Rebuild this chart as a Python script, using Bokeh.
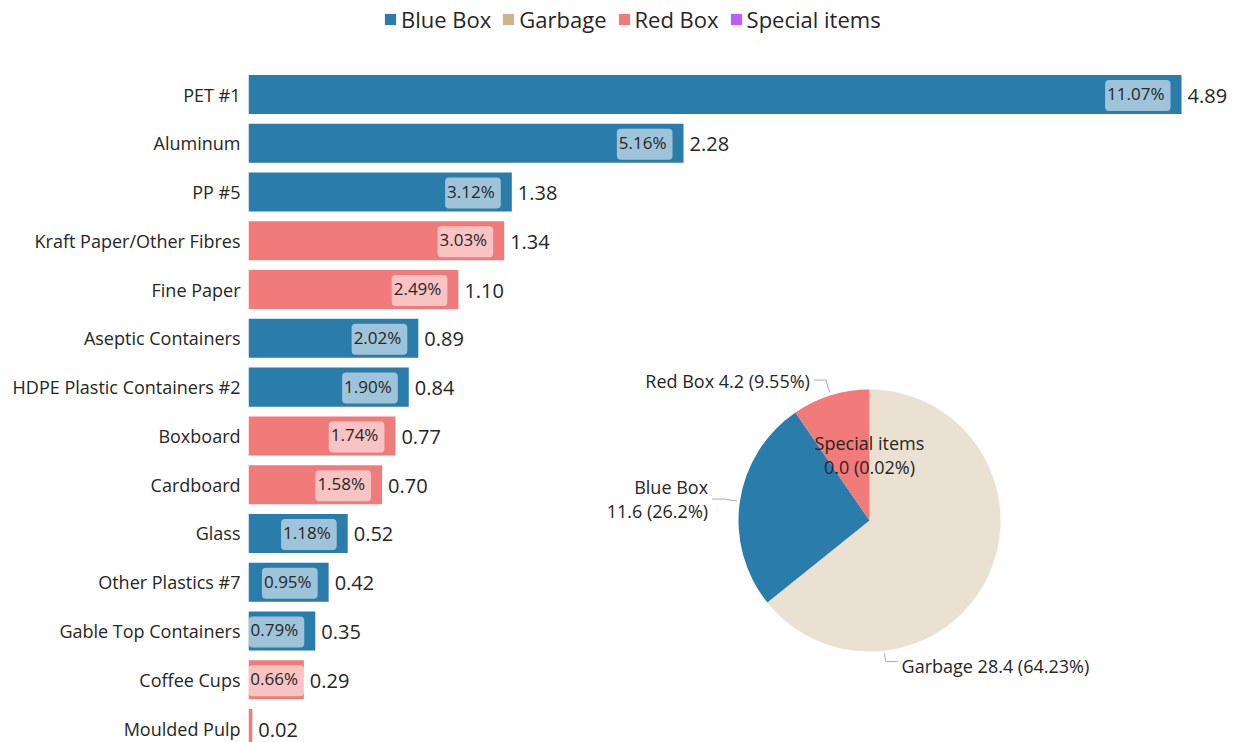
import math
from bokeh.plotting import figure
from bokeh.models import ColumnDataSource, Range1d, FixedTicker, Legend, LegendItem
from bokeh.core.properties import value
from bokeh.embed import file_html
from bokeh.resources import INLINE

# ---------------- data ----------------
categories = ["PET #1", "Aluminum", "PP #5", "Kraft Paper/Other Fibres", "Fine Paper",
              "Aseptic Containers", "HDPE Plastic Containers #2", "Boxboard", "Cardboard",
              "Glass", "Other Plastics #7", "Gable Top Containers", "Coffee Cups", "Moulded Pulp"]
amounts = [4.89, 2.28, 1.38, 1.34, 1.10, 0.89, 0.84, 0.77, 0.70, 0.52, 0.42, 0.35, 0.29, 0.02]
streams = ["Blue Box", "Blue Box", "Blue Box", "Red Box", "Red Box", "Blue Box", "Blue Box",
           "Red Box", "Red Box", "Blue Box", "Blue Box", "Blue Box", "Red Box", "Red Box"]
shares = ["11.07%", "5.16%", "3.12%", "3.03%", "2.49%", "2.02%", "1.90%", "1.74%", "1.58%",
          "1.18%", "0.95%", "0.79%", "0.66%", ""]

pie_labels = ["Blue Box", "Garbage", "Red Box", "Special items"]
pie_values = [11.6, 28.4, 4.2, 0.0]
pie_pcts = [26.2, 64.23, 9.55, 0.02]

colors = {"Blue Box": "#2a7caa", "Garbage": "#cdb48e", "Red Box": "#f17a7a", "Special items": "#bb5cff"}
pie_alpha = {"Blue Box": 1.0, "Garbage": 0.4, "Red Box": 1.0, "Special items": 1.0}

FONT = "Open Sans"
TXT = "#262626"

# ---------------- figure ----------------
W, H = 1233, 742
LEFT = 248
PX_PER_UNIT = 190.8
frame_w, frame_h = W - LEFT, H
ROW = 48.77            # px per category row
FIRST = 94             # px from top to first row centre
y_end = -FIRST / ROW
y_start = y_end + frame_h / ROW

p = figure(width=W, height=H, output_backend="svg", toolbar_location=None,
           x_range=Range1d(0, frame_w / PX_PER_UNIT), y_range=Range1d(y_start, y_end),
           x_axis_location=None,
           min_border_left=LEFT, min_border_right=0, min_border_top=0, min_border_bottom=0)
p.outline_line_color = None
p.xgrid.visible = False
p.ygrid.visible = False

idx = list(range(len(categories)))
p.yaxis.ticker = FixedTicker(ticks=idx)
p.yaxis.major_label_overrides = {i: c for i, c in zip(idx, categories)}
p.yaxis.axis_line_color = None
p.yaxis.major_tick_line_color = None
p.yaxis.minor_tick_line_color = None
p.yaxis.major_label_standoff = 2
p.yaxis.major_label_text_font = FONT
p.yaxis.major_label_text_font_size = "18px"
p.yaxis.major_label_text_color = TXT

bar_src = ColumnDataSource(dict(
    idx=idx, amount=amounts, color=[colors[s] for s in streams],
    amount_txt=[f"{a:.2f}" for a in amounts]))
p.hbar(y="idx", left=0, right="amount", height=0.8, fill_color="color",
       line_color=None, source=bar_src)

# percent labels: right-aligned inside the bar, centred when the bar is too narrow
sh = [(i, a, s) for i, a, s in zip(idx, amounts, shares) if s]
narrow = [a * PX_PER_UNIT < 62 for _, a, _ in sh]
share_src = ColumnDataSource(dict(
    idx=[t[0] for t in sh],
    lx=[t[1] / 2 if n else t[1] for t, n in zip(sh, narrow)],
    align=["center" if n else "right" for n in narrow],
    xoff=[0 if n else -11 for n in narrow],
    share=[t[2] for t in sh]))
p.text(x="lx", y="idx", text="share", source=share_src, x_offset="xoff", y_offset=1,
       text_align="align", text_baseline="middle", text_font=value(FONT),
       text_font_size="17px", text_color=TXT,
       background_fill_color="white", background_fill_alpha=0.55,
       border_radius=4, padding=[2, 6, 2, 6])

p.text(x="amount", y="idx", text="amount_txt", source=bar_src, x_offset=6, y_offset=1,
       text_align="left", text_baseline="middle", text_font=value(FONT),
       text_font_size="20px", text_color=TXT)

# ---------------- pie (pixel-unit extra ranges) ----------------
CX, CY = 621, 520          # pie centre, px from frame left / frame top
R = 131
p.extra_x_ranges = {"px": Range1d(-CX, frame_w - CX)}
p.extra_y_ranges = {"py": Range1d(-(frame_h - CY), CY)}

order = sorted(range(len(pie_labels)), key=lambda i: -pie_pcts[i])
tot = sum(pie_pcts)
cum = 0.0
starts, ends, mids = {}, {}, {}
for i in order:
    a0 = cum / tot * 360.0
    cum += pie_pcts[i]
    a1 = cum / tot * 360.0
    starts[i], ends[i], mids[i] = a0, a1, (a0 + a1) / 2

def bok(theta):   # clockwise-from-top degrees -> bokeh radians
    return math.radians(90.0 - theta)

wsrc = ColumnDataSource(dict(
    s=[bok(starts[i]) for i in order], e=[bok(ends[i]) for i in order],
    c=[colors[pie_labels[i]] for i in order], a=[pie_alpha[pie_labels[i]] for i in order]))
p.wedge(x=0, y=0, radius=R, start_angle="s", end_angle="e", direction="clock",
        fill_color="c", fill_alpha="a", line_color=None, source=wsrc,
        x_range_name="px", y_range_name="py")

def fmt(i):
    return f"{pie_values[i]:.1f} ({pie_pcts[i]:g}%)"

# outside labels: (label index, anchor angle, side, two-line?, elbow, text dy)
outside = [(2, mids[2], -1, False, 16, 1), (0, mids[0], -1, True, 16, 0),
           (1, 173.5, 1, False, 11, 4)]
for i, ang, side, wrap, elbow, dy in outside:
    t = math.radians(ang)
    x0, y0 = (R + 3) * math.sin(t), (R + 3) * math.cos(t)
    x1, y1 = (R + elbow) * math.sin(t), (R + elbow) * math.cos(t)
    x2 = x1 + side * 12
    p.line([x0, x1, x2], [y0, y1, y1], line_color="#aaaaaa", line_width=1,
           x_range_name="px", y_range_name="py")
    txt = f"{pie_labels[i]}\n{fmt(i)}" if wrap else f"{pie_labels[i]} {fmt(i)}"
    p.text(x=[x2 + side * 4], y=[y1], text=[txt], text_align="left" if side > 0 else "right",
           text_baseline="middle", text_font=value(FONT), text_font_size="18px",
           text_color=TXT, text_line_height=1.02, y_offset=dy,
           x_range_name="px", y_range_name="py")

# inside label (tiny slice)
i = 3
t = math.radians(mids[i])
p.text(x=[0.5 * R * math.sin(t)], y=[0.5 * R * math.cos(t)],
       text=[f"{pie_labels[i]}\n{fmt(i)}"], text_align="center", text_baseline="middle",
       text_font=value(FONT), text_font_size="18px", text_color=TXT, text_line_height=1.0,
       x_range_name="px", y_range_name="py")

# ---------------- legend (proxy glyphs that draw nothing in the plot) ----------------
nan = float("nan")
items = []
for lab in pie_labels:
    r = p.quad(left=[nan], right=[nan], top=[nan], bottom=[nan],
               fill_color=colors[lab], line_color=None)
    items.append(LegendItem(label=lab, renderers=[r]))
legend = Legend(items=items, orientation="horizontal", location=(135, frame_h - 34),
                padding=0, margin=0, spacing=10, glyph_width=14, glyph_height=14,
                label_standoff=4, label_text_font=FONT, label_text_font_size="22px",
                label_text_color=TXT, border_line_color=None, background_fill_alpha=0)
p.add_layout(legend)

open("out.html", "w").write(file_html(p, INLINE))
